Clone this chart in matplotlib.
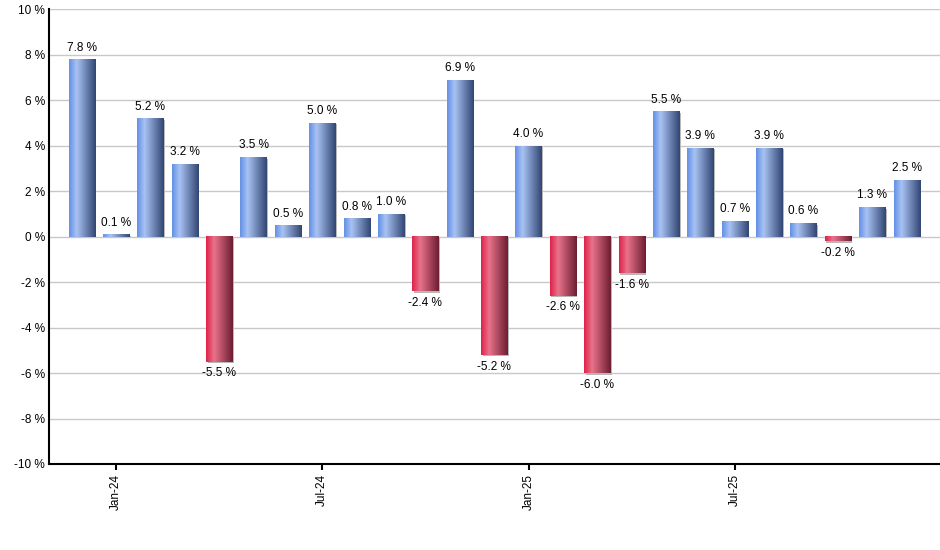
import matplotlib
matplotlib.use("Agg")
import matplotlib.pyplot as plt
import numpy as np
from matplotlib.colors import LinearSegmentedColormap
from matplotlib.patches import Rectangle

months = ["Dec-23", "Jan-24", "Feb-24", "Mar-24", "Apr-24", "May-24", "Jun-24",
          "Jul-24", "Aug-24", "Sep-24", "Oct-24", "Nov-24", "Dec-24", "Jan-25",
          "Feb-25", "Mar-25", "Apr-25", "May-25", "Jun-25", "Jul-25", "Aug-25",
          "Sep-25", "Oct-25", "Nov-25", "Dec-25"]
values = [7.8, 0.1, 5.2, 3.2, -5.5, 3.5, 0.5, 5.0, 0.8, 1.0, -2.4, 6.9, -5.2,
          4.0, -2.6, -6.0, -1.6, 5.5, 3.9, 0.7, 3.9, 0.6, -0.2, 1.3, 2.5]
tick_labels = ["Jan-24", "Jul-24", "Jan-25", "Jul-25"]
y_ticks = [-10, -8, -6, -4, -2, 0, 2, 4, 6, 8, 10]

plt.rcParams['font.family'] = ['Liberation Sans', 'DejaVu Sans']

blue_cmap = LinearSegmentedColormap.from_list(
    "b", [(0.0, (100/255, 145/255, 230/255)), (0.28, (168/255, 195/255, 243/255)),
          (1.0, (50/255, 70/255, 115/255))])
red_cmap = LinearSegmentedColormap.from_list(
    "r", [(0.0, (222/255, 35/255, 75/255)), (0.3, (232/255, 115/255, 138/255)),
          (1.0, (110/255, 30/255, 50/255))])

fig = plt.figure(figsize=(9.4, 5.5), dpi=100)
ax = fig.add_axes([49/940, 86/550, 1 - 49/940, (464 - 9.3)/550])

x = np.arange(len(values))
w = 0.76
grad = np.linspace(0, 1, 64).reshape(1, -1)
pxx = 1 / 34.36  # data units per pixel (x)
pxy = 20 / 454.7  # data units per pixel (y)
for xi, v in zip(x, values):
    cmap = blue_cmap if v >= 0 else red_cmap
    # shadow
    if v >= 0:
        sh = Rectangle((xi - w/2 + 1.5*pxx, 0), w, v - 1.5*pxy, facecolor="#b8b8b8",
                       edgecolor="none", zorder=2)
    else:
        sh = Rectangle((xi - w/2 + 1.5*pxx, v - 1.5*pxy), w, -v + 1.5*pxy, facecolor="#b8b8b8",
                       edgecolor="none", zorder=2)
    ax.add_patch(sh)
    ax.imshow(grad, cmap=cmap, aspect="auto", interpolation="bilinear",
              extent=[xi - w/2, xi + w/2, 0, v], zorder=3)
    if v >= 0:
        ax.text(xi, v + 0.25, f"{v:.1f} %", ha="center", va="bottom", fontsize=8.5, zorder=4)
    else:
        ax.text(xi, v - 0.25, f"{v:.1f} %", ha="center", va="top", fontsize=8.5, zorder=4)

ax.set_xlim(-0.95, 24.97)
ax.set_ylim(-10, 10)
ax.set_yticks(y_ticks)
ax.set_yticklabels([f"{t} %" for t in y_ticks], fontsize=8.5)
ax.set_xticks([months.index(t) for t in tick_labels])
ax.set_xticklabels(tick_labels, rotation=90, fontsize=8.5)
ax.tick_params(axis="x", length=4, width=1.5, direction="out", pad=3)
ax.tick_params(axis="y", length=0, pad=3)
ax.yaxis.grid(True, color="#c8c8c8", linewidth=1)
ax.set_axisbelow(True)
for s in ["top", "right"]:
    ax.spines[s].set_visible(False)
for s in ["left", "bottom"]:
    ax.spines[s].set_linewidth(1.5)
    ax.spines[s].set_zorder(5)
fig.savefig("out.png", dpi=100)
